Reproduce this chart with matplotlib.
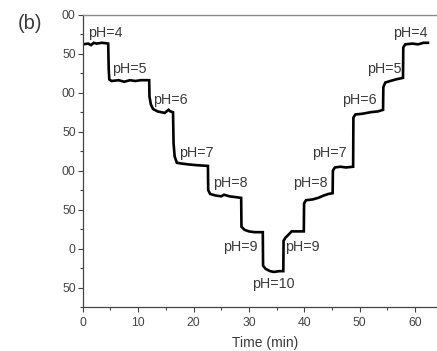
import matplotlib
matplotlib.use("Agg")
import matplotlib.pyplot as plt
from matplotlib.ticker import MultipleLocator

plt.rcParams["font.family"] = ["Liberation Sans", "DejaVu Sans"]

# Traced signal (time in min, response)
time_min = [0, 1.0, 1.5, 2.0, 2.5, 3.5, 4.6,
            4.7, 4.8, 5.2, 6.5, 7.5, 8.5, 9.5, 10.5, 12.0,
            12.05, 12.3, 12.7, 13.5, 14.8, 15.5, 15.8, 16.3,
            16.4, 16.6, 17.0, 17.9, 19.0, 20.5, 22.6,
            22.65, 23.0, 24.0, 25.0, 25.5, 26.5, 28.6,
            28.65, 29.2, 30.0, 31.0, 32.5,
            32.55, 33.0, 33.8, 34.5, 35.5, 36.2,
            36.25, 36.6, 37.3, 37.7, 38.5, 39.9,
            39.95, 40.3, 41.5, 42.5, 43.5, 44.3, 45.1,
            45.15, 45.5, 46.5, 47.5, 48.8,
            48.85, 49.2, 50.5, 52.0, 53.3, 54.2,
            54.25, 54.6, 55.5, 56.5, 57.8,
            57.85, 58.2, 59.5, 60.5, 61.5, 62.3]
signal = [262, 263, 261, 264, 263, 264, 263,
          230, 217, 215, 216, 214, 216, 215, 216, 216,
          195, 185, 179, 176, 174, 178, 176, 175,
          135, 118, 110, 109, 108, 107, 106,
          75, 70, 68, 67, 69, 67, 65,
          28, 24, 22, 21, 21,
          -22, -26, -29, -30, -29, -29,
          10, 14, 19, 22, 22, 22,
          58, 62, 63, 65, 68, 70, 71,
          100, 104, 105, 104, 105,
          168, 172, 173, 175, 176, 178,
          207, 213, 215, 217, 219,
          258, 262, 263, 262, 264, 264]

# pH annotations
ph_labels = ["pH=4", "pH=5", "pH=6", "pH=7", "pH=8", "pH=9", "pH=10",
             "pH=9", "pH=8", "pH=7", "pH=6", "pH=5", "pH=4"]
label_t = [4.0, 8.4, 15.8, 20.6, 26.6, 28.4, 34.4,
           39.7, 41.0, 44.6, 50.0, 54.4, 59.1]
label_v = [277, 231, 191, 123, 84, 2, -46,
           2, 84, 122, 191, 231, 276]

ytick_vals = [-50, 0, 50, 100, 150, 200, 250, 300]
ytick_text = ["50", "0", "50", "00", "50", "00", "50", "00"]
xtick_vals = [0, 10, 20, 30, 40, 50, 60]

fig = plt.figure(figsize=(4.37, 3.51), dpi=100)
ax = fig.add_axes([0.1892, 0.1254, 0.837, 0.8326])

ax.plot(time_min, signal, color="black", lw=1.9, solid_joinstyle="miter")

txt_color = "#3a3a3a"
for s, tx, vy in zip(ph_labels, label_t, label_v):
    ax.text(tx, vy, s, ha="center", va="center", fontsize=10.3, color=txt_color)

ax.set_xlim(0, 66)
ax.set_ylim(-75, 300)
ax.set_xticks(xtick_vals)
ax.xaxis.set_minor_locator(MultipleLocator(5))
ax.set_yticks(ytick_vals)
ax.set_yticklabels(ytick_text)
ax.yaxis.set_minor_locator(MultipleLocator(25))

ax.tick_params(which="major", direction="out", length=3.5, width=0.8,
               color="#444444", labelsize=8.7, labelcolor="#444444", pad=1.5)
ax.tick_params(which="minor", direction="out", length=2, width=0.8, color="#444444")
ax.tick_params(axis="x", which="major", pad=3.5)

for side in ["left", "bottom"]:
    ax.spines[side].set_color("#444444")
    ax.spines[side].set_linewidth(0.9)
ax.spines["top"].set_color("#8a8a8a")
ax.spines["top"].set_linewidth(1.0)
ax.spines["right"].set_visible(False)

ax.set_xlabel("Time (min)", fontsize=10, color=txt_color, labelpad=5)

fig.text(0.069, 0.934, "(b)", fontsize=14.5, color=txt_color, ha="center", va="center")

fig.savefig("out.png", dpi=100)
